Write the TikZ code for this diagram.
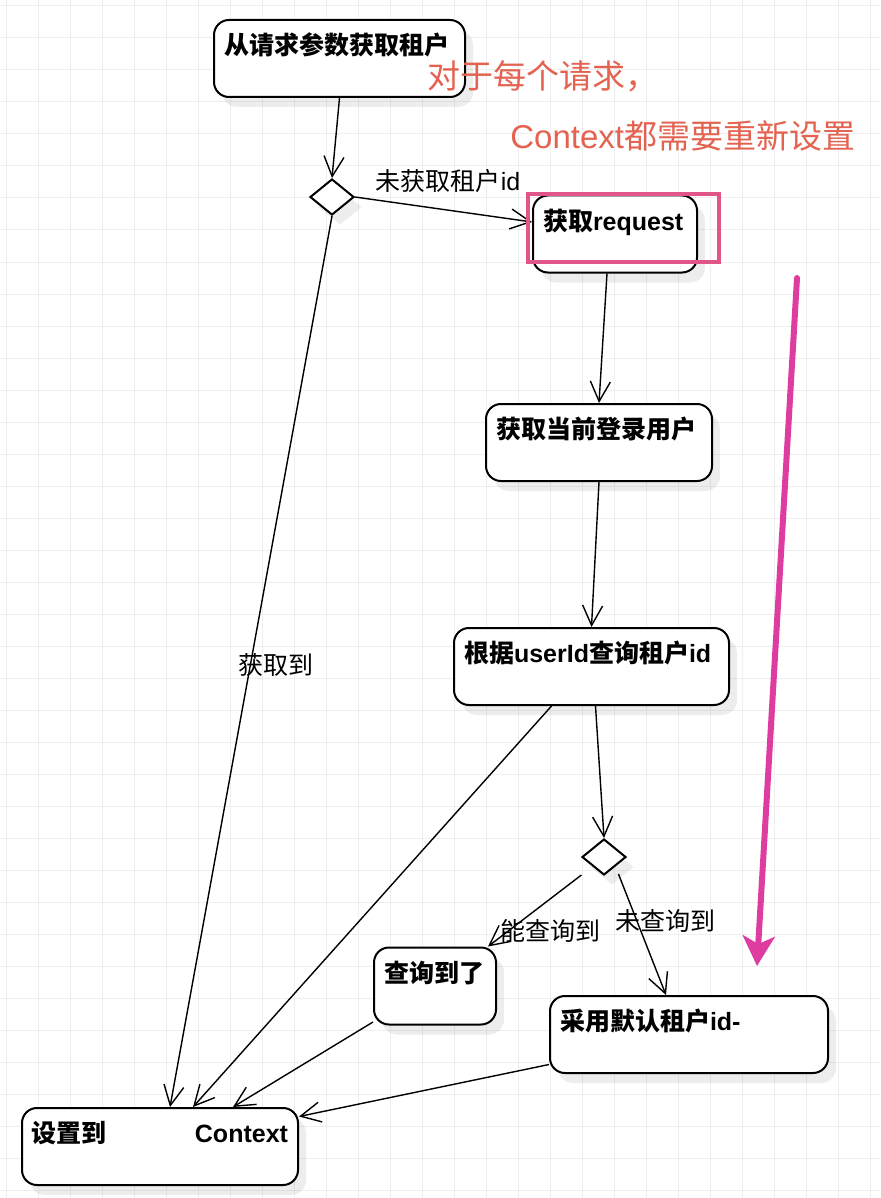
\documentclass[tikz,border=0pt]{standalone}
\usepackage{fontspec}
\setmainfont{Noto Sans CJK SC}
\newfontfamily\latin{Liberation Sans}
\definecolor{hlpink}{RGB}{224,86,136}
\definecolor{notered}{RGB}{228,98,80}
\definecolor{flowpink}{RGB}{222,60,160}
\definecolor{gridgray}{RGB}{238,238,241}
\usetikzlibrary{arrows.meta,shapes.geometric,shadows}

\begin{document}
\begin{tikzpicture}[x=0.5pt,y=-0.5pt,
  act/.style={draw,line width=1pt,rounded corners=7.5pt,fill=white,align=left,
    inner xsep=5pt,inner ysep=4pt,text height=13.3pt,text depth=17.2pt,
    font=\fontsize{12.5pt}{15pt}\selectfont\bfseries,
    drop shadow={shadow xshift=4pt,shadow yshift=-5pt,opacity=0.07,fill=black}},
  choice/.style={diamond,draw,line width=1pt,fill=white,minimum width=22pt,minimum height=18pt,inner sep=0pt,
    drop shadow={shadow xshift=4pt,shadow yshift=-5pt,opacity=0.07,fill=black}},
  lbl/.style={font=\fontsize{12.5pt}{15pt}\selectfont,inner sep=1pt},
  note/.style={font=\fontsize{16.5pt}{19pt}\selectfont,text=notered,inner sep=0pt,anchor=west},
  flow/.style={line width=0.7pt,-{Straight Barb[length=10pt,width=10pt]}}]
  \useasboundingbox (0,0) rectangle (880,1198);
  \fill[white] (0,0) rectangle (880,1198);
  % background grid
  \foreach \gx in {6,38,...,870} \draw[gridgray,line width=0.5pt] (\gx,0) -- (\gx,1198);
  \foreach \gy in {6,38,...,1190} \draw[gridgray,line width=0.5pt] (0,\gy) -- (880,\gy);
  % activities
  \node[act,text width=115.5pt] (param) at (339.5,58.5) {从请求参数获取租户};
  \node[choice] (d1) at (332,197) {};
  \node[act,text width=72pt] (req) at (615,234) {获取{\latin request}};
  \node[act,text width=103pt] (user) at (599,442.5) {获取当前登录用户};
  \node[act,text width=127.5pt] (query) at (591.5,666.5) {根据{\latin userId}查询租户{\latin id}};
  \node[choice] (d2) at (604,857) {};
  \node[act,text width=51pt] (found) at (435,986) {查询到了};
  \node[act,text width=129pt] (default) at (689,1034.5) {采用默认租户{\latin id-}};
  \node[act,text width=128pt] (ctx) at (160,1146.5) {设置到\hfill{\latin Context}};
  % connectors
  \draw[flow] (param.south) -- (d1.north);
  \draw[flow] (d1.east) -- ([yshift=6pt]req.west);
  \draw[flow] (d1.south) -- ([xshift=5pt]ctx.north);
  \draw[flow] ([xshift=-4pt]req.south) -- (user.north);
  \draw[flow] (user.south) -- (query.north);
  \draw[flow] ([xshift=2pt]query.south) -- (d2.north);
  \draw[flow,shorten <=7pt] (d2.south west) -- ([xshift=-4.5pt]found.north east);
  \draw[flow,shorten <=4pt] (d2.south east) -- ([xshift=-11.5pt]default.north);
  \draw[flow] ([xshift=-20pt]query.south) -- ([xshift=16.5pt]ctx.north);
  \draw[flow] ([yshift=-18pt]found.west) -- ([xshift=36.5pt]ctx.north);
  \draw[flow] ([yshift=-15pt]default.west) -- ([yshift=15pt]ctx.east);
  \node[lbl] (nogot) at (448,181) {未获取租户{\latin id}};
  \node[lbl] (got) at (276,665) {获取到};
  \node[lbl] (canq) at (550,931) {能查询到};
  \node[lbl] (noq) at (665,921) {未查询到};
  % annotations
  \draw[hlpink,line width=2pt] (528,194) rectangle (719,262);
  \node[note] (note1) at (427,76) {对于每个请求，};
  \node[note] (note2) at (510,136) {{\latin Context}都需要重新设置};
  \coordinate (pstart) at (797,278);
  \coordinate (pend) at (757,966);
  \draw[flowpink,line width=3pt,line cap=round,-{Stealth[length=15pt,width=16pt,inset=4pt]}] (pstart) -- (pend);
\end{tikzpicture}
\end{document}
